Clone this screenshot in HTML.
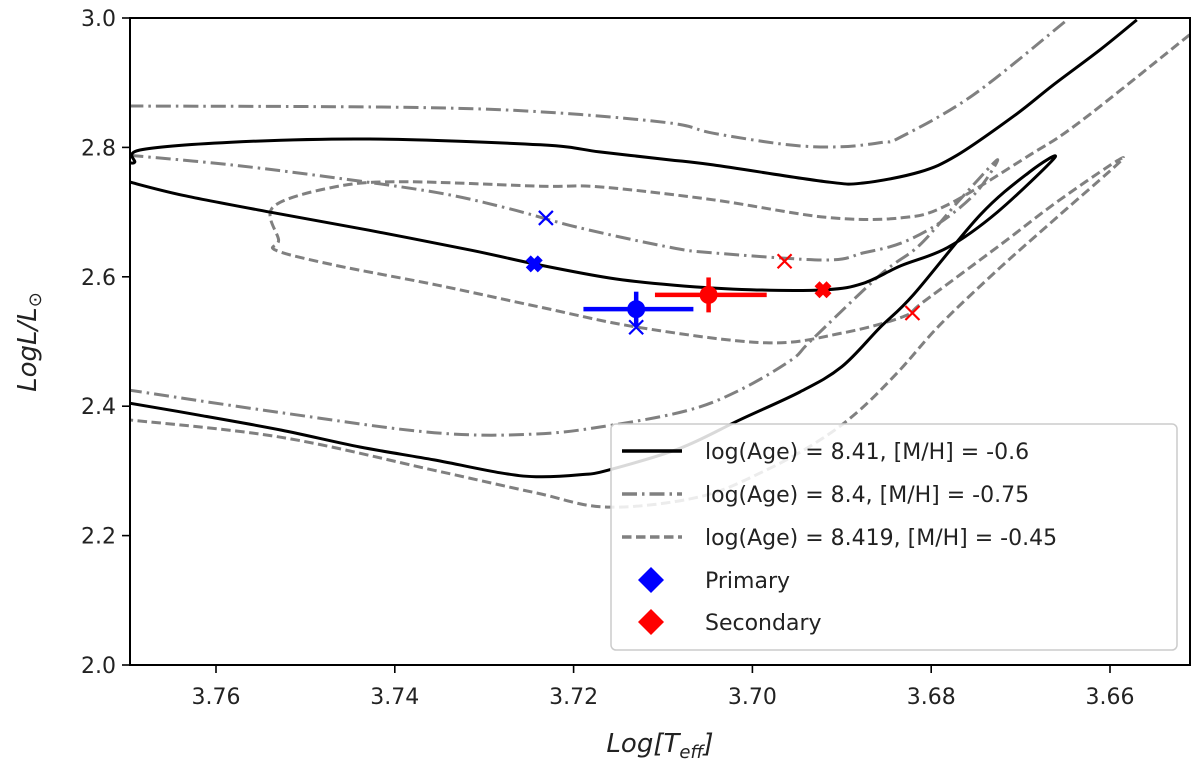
<!DOCTYPE html>
<html><head><meta charset="utf-8">
<style>
html,body{margin:0;padding:0;background:#fff;}
svg{display:block;font-family:"DejaVu Sans","Liberation Sans",sans-serif;}
</style></head>
<body>
<svg id="chart" width="1200" height="777" viewBox="0 0 1200 777" xmlns="http://www.w3.org/2000/svg">
<rect x="0" y="0" width="1200" height="777" fill="#fff"/>
<g id="marks"></g>
<g id="axes"></g>
<g id="legend"></g>
</svg>
<script>
// ---- data ----
const isoA_T=[3.7698,3.7691,3.7685,3.7583,3.7429,3.7237,3.7171,3.7094,3.7044,3.6918,3.6876,3.6813,3.6771,3.6707,3.6664,3.6611,3.6570];
const isoA_L=[2.777,2.777,2.796,2.808,2.813,2.804,2.793,2.781,2.773,2.747,2.745,2.762,2.788,2.849,2.896,2.951,2.997];
const isoB_T=[3.7698,3.7637,3.7536,3.7429,3.7314,3.7244,3.7159,3.7087,3.7002,3.6918,3.6876,3.6834,3.6782,3.6726,3.6662,
 3.6690,3.6745,3.6820,3.6857,3.6900,3.6947,3.7014,3.7081,3.7162,3.7193,3.7242,3.7282,3.7356,3.7439,3.7527,3.7618,3.7698];
const isoB_L=[2.747,2.726,2.699,2.672,2.641,2.620,2.598,2.587,2.580,2.580,2.590,2.617,2.645,2.700,2.784,
 2.762,2.696,2.572,2.522,2.461,2.422,2.379,2.335,2.301,2.294,2.291,2.297,2.317,2.337,2.363,2.386,2.405];
const dd1_T=[3.7698,3.7391,3.7237,3.7094,3.7044,3.6960,3.6901,3.6854,3.6834,3.6753,3.6648];
const dd1_L=[2.864,2.862,2.855,2.838,2.822,2.804,2.801,2.808,2.816,2.881,2.997];
const dd2_T=[3.7698,3.7583,3.7467,3.7352,3.7274,3.7197,3.7094,3.7044,3.6918,3.6876,3.6834,3.6791,3.6750,3.6726,
 3.6768,3.6813,3.6857,3.6934,3.6957,3.7014,3.7071,3.7156,3.7242,3.7356,3.7527,3.7698];
const dd2_L=[2.788,2.773,2.753,2.730,2.706,2.677,2.646,2.637,2.626,2.637,2.652,2.683,2.730,2.781,
 2.719,2.649,2.603,2.502,2.471,2.425,2.394,2.371,2.357,2.359,2.390,2.425];
const da_T=[3.6511,3.6634,3.6690,3.6782,3.6834,3.6918,3.7044,3.7171,3.7237,3.7391,3.7467,3.7536,3.7530,3.7533,3.7467,3.7352,3.7237,3.7128,3.6985,3.6900,3.6832,3.6809,3.6723,3.6656,3.6585,
 3.6656,3.6723,3.6790,3.6835,3.6880,3.6924,3.6985,3.7059,3.7162,3.7242,3.7356,3.7527,3.7698];
const da_L=[2.974,2.839,2.788,2.711,2.691,2.692,2.719,2.739,2.740,2.747,2.739,2.708,2.657,2.641,2.618,2.587,2.553,2.522,2.498,2.513,2.538,2.561,2.649,2.719,2.784,
 2.696,2.614,2.526,2.456,2.394,2.348,2.301,2.260,2.244,2.266,2.301,2.352,2.379];
const starNames=['Primary','Secondary'];
const starT=[3.7130,3.7049];
const starL=[2.550,2.572];
const starTerrLo=[0.0059,0.0060];
const starTerrHi=[0.0064,0.0065];
const starLerr=[0.027,0.027];
const starColors=['#0000ff','#ff0000'];
const fillXT=[3.7244,3.6921];
const fillXL=[2.620,2.580];
const thinXT=[3.7231,3.7130,3.6964,3.6821];
const thinXL=[2.691,2.522,2.624,2.544];
const thinXC=['#0000ff','#0000ff','#ff0000','#ff0000'];
const xTicks=[3.76,3.74,3.72,3.70,3.68,3.66];
const xTickLabels=['3.76','3.74','3.72','3.70','3.68','3.66'];
const yTicks=[2.0,2.2,2.4,2.6,2.8,3.0];
const yTickLabels=['2.0','2.2','2.4','2.6','2.8','3.0'];
const legendLabels=['log(Age) = 8.41, [M/H] = -0.6','log(Age) = 8.4, [M/H] = -0.75','log(Age) = 8.419, [M/H] = -0.45','Primary','Secondary'];

// ---- axis functions ----
const PL=130,PR=1190,PT=18,PB=665;
const X=v=>216+(3.76-v)*8940;
const Y=v=>665-(v-2.0)*647;
const NS='http://www.w3.org/2000/svg';
function mk(tag,attrs,parent){const e=document.createElementNS(NS,tag);for(const k in attrs)e.setAttribute(k,attrs[k]);parent.appendChild(e);return e;}
const marks=document.getElementById('marks');
const axes=document.getElementById('axes');
const legend=document.getElementById('legend');
const clip=mk('clipPath',{id:'pc'},document.getElementById('chart'));
mk('rect',{x:PL,y:PT,width:PR-PL,height:PB-PT},clip);
marks.setAttribute('clip-path','url(#pc)');

function smoothPath(pts){
  let d='M'+pts[0][0].toFixed(1)+','+pts[0][1].toFixed(1);
  for(let i=0;i<pts.length-1;i++){
    const p0=pts[i-1]||pts[i],p1=pts[i],p2=pts[i+1],p3=pts[i+2]||p2;
    const c1=[p1[0]+(p2[0]-p0[0])/6,p1[1]+(p2[1]-p0[1])/6];
    const c2=[p2[0]-(p3[0]-p1[0])/6,p2[1]-(p3[1]-p1[1])/6];
    d+=`C${c1[0].toFixed(1)},${c1[1].toFixed(1)} ${c2[0].toFixed(1)},${c2[1].toFixed(1)} ${p2[0].toFixed(1)},${p2[1].toFixed(1)}`;
  }
  return d;
}
function line(Ts,Ls,style,name){
  const pts=Ts.map((t,i)=>[X(t),Y(Ls[i])]);
  const p=mk('path',{d:smoothPath(pts),fill:'none','stroke-linejoin':'round'},marks);
  for(const k in style)p.setAttribute(k,style[k]);
  
  
}
const sSolid={stroke:'#000','stroke-width':3};
const sDD={stroke:'#808080','stroke-width':3,'stroke-dasharray':'15,5,2.5,5'};
const sDa={stroke:'#808080','stroke-width':3,'stroke-dasharray':'9.5,4.5'};
line(dd1_T,dd1_L,sDD,'isochrone-8.4-upper');
line(dd2_T,dd2_L,sDD,'isochrone-8.4-lower');
line(da_T,da_L,sDa,'isochrone-8.419');
line(isoA_T,isoA_L,sSolid,'isochrone-8.41-upper');
line(isoB_T,isoB_L,sSolid,'isochrone-8.41-lower');

function xMark(cx,cy,s,col,w,name){
  const g=mk('g',{},marks);
  
  
  mk('path',{d:`M${cx-s},${cy-s}L${cx+s},${cy+s}M${cx-s},${cy+s}L${cx+s},${cy-s}`,stroke:col,'stroke-width':w,fill:'none'},g);
}
for(let i=0;i<thinXT.length;i++){xMark(X(thinXT[i]),Y(thinXL[i]),7,thinXC[i],2.2,'model-x-marker');}
for(let i=0;i<fillXT.length;i++){xMark(X(fillXT[i]),Y(fillXL[i]),6,starColors[i],7,'model-filled-x-marker');}
for(let i=0;i<starT.length;i++){
  const g=mk('g',{},marks);
  
  
  const cx=X(starT[i]),cy=Y(starL[i]);
  mk('line',{x1:X(starT[i]+starTerrLo[i]),x2:X(starT[i]-starTerrHi[i]),y1:cy,y2:cy,stroke:starColors[i],'stroke-width':4.5},g);
  mk('line',{x1:cx,x2:cx,y1:Y(starL[i]+starLerr[i]),y2:Y(starL[i]-starLerr[i]),stroke:starColors[i],'stroke-width':4.5},g);
  mk('circle',{cx:cx,cy:cy,r:9,fill:starColors[i]},g);
}

// ---- axes ----
mk('rect',{x:PL,y:PT,width:PR-PL,height:PB-PT,fill:'none',stroke:'#000','stroke-width':2},axes);
for(let i=0;i<xTicks.length;i++){
  const x=X(xTicks[i]);
  const t=mk('line',{x1:x,x2:x,y1:PB,y2:PB+8,stroke:'#000','stroke-width':1.6},axes);
  
  
  const l=mk('text',{x:x,y:PB+39,'text-anchor':'middle','font-size':22,fill:'#222'},axes);
  l.textContent=xTickLabels[i];
  
  
}
for(let i=0;i<yTicks.length;i++){
  const y=Y(yTicks[i]);
  const t=mk('line',{x1:PL-8,x2:PL,y1:y,y2:y,stroke:'#000','stroke-width':1.6},axes);
  
  
  const l=mk('text',{x:PL-14,y:y+8,'text-anchor':'end','font-size':22,fill:'#222'},axes);
  l.textContent=yTickLabels[i];
  
  
}
const xl=mk('text',{x:660,y:752,'text-anchor':'middle','font-size':26,'font-style':'italic',fill:'#222'},axes);


xl.innerHTML='Log[T<tspan font-size="18" dy="6">eff</tspan><tspan dy="-6">]</tspan>';
const yl=mk('text',{x:0,y:0,'text-anchor':'middle','font-size':26,'font-style':'italic',fill:'#222',transform:'translate(36,342) rotate(-90)'},axes);


yl.innerHTML='LogL/L<tspan font-size="18" dy="5" font-style="normal">⊙</tspan>';

// ---- legend ----
const lb=mk('rect',{x:611,y:424,width:566,height:226,rx:5,fill:'rgba(255,255,255,0.85)',stroke:'#ccc','stroke-width':1.5},legend);


const rowY=[451,494,537,580,622];
const legStyles=[sSolid,sDD,sDa];
for(let i=0;i<legendLabels.length;i++){
  const g=mk('g',{},legend);
  
  
  if(i<3){
    const s=mk('line',{x1:622,x2:682,y1:rowY[i],y2:rowY[i]},g);
    for(const k in legStyles[i])s.setAttribute(k,legStyles[i][k]);
    s.setAttribute('stroke-width',3.5);
  } else {
    const c=starColors[i-3];
    mk('path',{d:`M651,${rowY[i]-13}L664,${rowY[i]}L651,${rowY[i]+13}L638,${rowY[i]}Z`,fill:c},g);
    mk('line',{x1:640,x2:662,y1:rowY[i],y2:rowY[i],stroke:c,'stroke-width':4},g);
  }
  const t=mk('text',{x:705,y:rowY[i]+8,'font-size':22,fill:'#222'},g);
  t.textContent=legendLabels[i];
}
</script>
</body></html>
